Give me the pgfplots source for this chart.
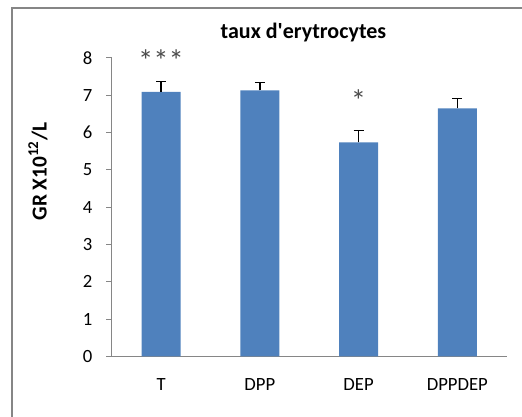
\documentclass[border=0pt]{standalone}
\usepackage{fontspec}
\setmainfont{Carlito}
\usepackage{pgfplots}
\pgfplotsset{compat=1.18}
\definecolor{barblue}{HTML}{4F81BD}
\definecolor{axgray}{HTML}{868686}
\begin{document}
\begin{tikzpicture}
\path[use as bounding box] (0,0) rectangle (391.5pt,312.75pt);
\draw[axgray, line width=1.2pt] (9pt,0) -- (9pt,306.75pt) -- (391.5pt,306.75pt);
\begin{axis}[
  at={(83.8pt,45.4pt)}, anchor=south west,
  scale only axis, width=296.25pt, height=223.9pt,
  xmin=-0.5, xmax=3.5, ymin=0, ymax=8,
  axis x line*=bottom, axis y line*=left,
  axis line style={axgray, line width=0.8pt},
  xtick={0,1,2,3}, xticklabels={T,DPP,DEP,DPPDEP},
  extra x ticks={-0.5,0.5,1.5,2.5,3.5}, extra x tick labels={},
  extra x tick style={major tick length=5pt, tick style={axgray, line width=0.8pt}},
  x tick style={draw=none},
  ytick={0,1,...,8},
  y tick style={axgray, line width=0.8pt},
  tick align=outside, major tick length=4pt,
  x tick label style={yshift=-9pt},
  y tick label style={xshift=-7pt},
  ticklabel style={font=\fontsize{14}{16}\selectfont, text=black},
  /pgf/number format/assume math mode=true,
  enlargelimits=false, clip=false,
]
\addplot[ybar, bar width=0.395, fill=barblue, draw=none,
  error bars/.cd, y dir=plus, y explicit,
  error bar style={black, line width=1pt},
  error mark options={black, line width=1pt, mark size=3.75pt, rotate=90}]
  table[x=x, y=y, y error=e] {
x y e
0 7.09 0.28
1 7.13 0.22
2 5.74 0.31
3 6.65 0.27
};
\node[font=\fontsize{23}{24}\selectfont, text=black!70, inner sep=0pt] at (axis cs:0,7.93) {***};
\node[font=\fontsize{23}{24}\selectfont, text=black!70, inner sep=0pt] at (axis cs:2,6.86) {*};
\end{axis}
\node[font=\bfseries\fontsize{16.5}{18}\selectfont] at (227.6pt,288pt) {taux d\textquotesingle erytrocytes};
\node[font=\bfseries\fontsize{16}{18}\selectfont, rotate=90] at (28.5pt,184pt) {GR X10\textsuperscript{12}/L};
\end{tikzpicture}
\end{document}
